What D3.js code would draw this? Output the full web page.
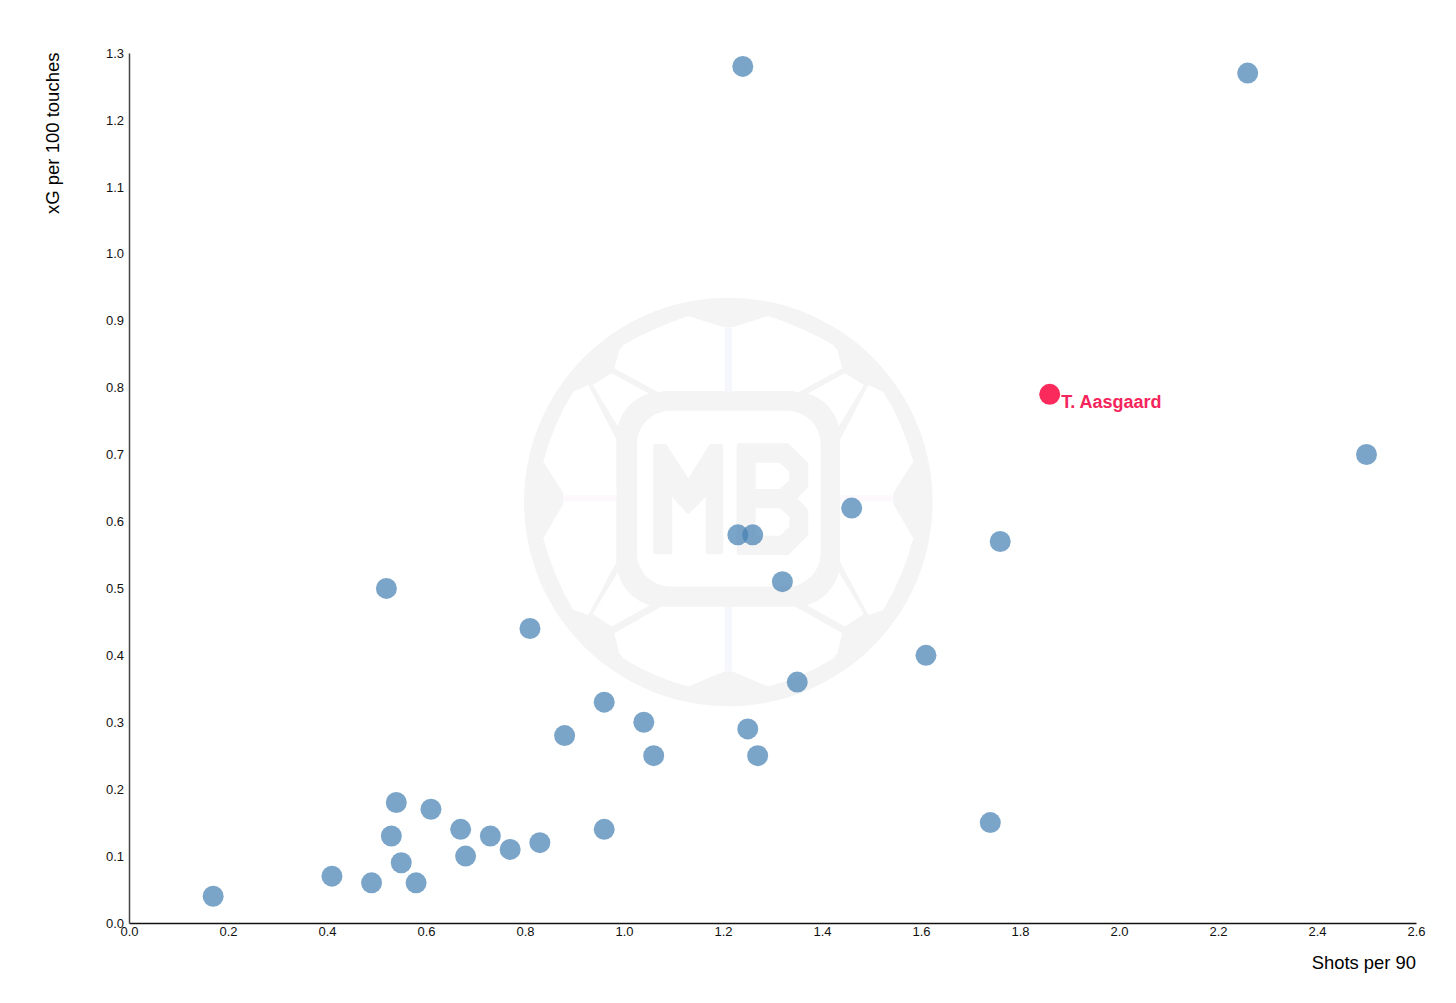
<!DOCTYPE html>
<html>
<head>
<meta charset="utf-8">
<script src="https://cdn.jsdelivr.net/npm/d3@7.9.0/dist/d3.min.js"></script>
<style>
  html, body { margin: 0; padding: 0; background: #fff; }
  svg { display: block; font-family: "Liberation Sans", sans-serif; }
</style>
</head>
<body>
<div id="chart"></div>
<script>
// values
const shots = [0.17, 0.41, 0.49, 0.53, 0.54, 0.55, 0.58, 0.61, 0.67, 0.68, 0.73, 0.77, 0.83, 0.88, 0.96, 0.96, 1.04, 1.06, 1.25, 1.27, 1.35, 0.81, 0.52, 1.23, 1.26, 1.32, 1.46, 1.61, 1.74, 1.76, 2.5, 2.26, 1.24];
const xg = [0.04, 0.07, 0.06, 0.13, 0.18, 0.09, 0.06, 0.17, 0.14, 0.10, 0.13, 0.11, 0.12, 0.28, 0.33, 0.14, 0.30, 0.25, 0.29, 0.25, 0.36, 0.44, 0.50, 0.58, 0.58, 0.51, 0.62, 0.40, 0.15, 0.57, 0.70, 1.27, 1.28];
const highlightName = 'T. Aasgaard';
const highlightShots = 1.86;
const highlightXg = 0.79;
const xTicks = d3.range(0, 14).map((i) => i * 2 / 10);
const yTicks = d3.range(0, 14).map((i) => i / 10);

const width = 1456;
const height = 1003;
const svg = d3.select('#chart').append('svg')
  .attr('width', width)
  .attr('height', height)
  .attr('viewBox', `0 0 ${width} ${height}`);

const xScale = d3.scaleLinear().domain([0, 2.6]).range([129, 1416]);
const yScale = d3.scaleLinear().domain([0, 1.3]).range([923, 53]);

// watermark, traced at 3x; the ball is not quite symmetric top to bottom
const logo = svg.append('g').attr('transform', 'translate(728.3,498.3) scale(0.3333)');
logo.append('circle').attr('cy', 11).attr('r', 613).attr('fill', '#f4f4f4');
const topPanels = [
  'M-120,-547 Q-230,-510 -315,-460 L-327,-445 L-342,-390 L-205,-315 L-195,-322 L-13,-322 L-13,-513 Z',
  'M-407,-340 L-350,-375 L-225,-307 Q-290,-265 -325,-205 Z',
  'M-465,-320 L-420,-340 L-335,-175 L-335,-13 L-493,-13 L-555,-110 Q-525,-225 -465,-320 Z'
];
const bottomPanels = [
  'M-120,565 Q-230,535 -315,480 L-327,465 L-342,405 L-200,325 L-13,325 L-13,520 Z',
  'M-407,347 L-350,385 L-225,315 Q-290,270 -325,210 Z',
  'M-465,335 L-420,350 L-335,190 L-335,13 L-493,13 L-555,120 Q-525,235 -465,335 Z'
];
[1, -1].forEach((sx) => {
  topPanels.concat(bottomPanels).forEach((d) => {
    logo.append('path').attr('d', d).attr('transform', `scale(${sx},1)`).attr('fill', '#fff');
  });
  // seams on the axes of the ball
  logo.append('rect').attr('x', -495).attr('y', -14).attr('width', 170).attr('height', 28)
    .attr('transform', `scale(${sx},1)`).attr('fill', '#fff');
  logo.append('rect').attr('x', -495).attr('y', -9).attr('width', 170).attr('height', 18)
    .attr('transform', `scale(${sx},1)`).attr('fill', '#fcf8fc');
});
logo.append('rect').attr('x', -14).attr('y', -514).attr('width', 28).attr('height', 1034).attr('fill', '#fff');
logo.append('rect').attr('x', -11).attr('y', -513).attr('width', 22).attr('height', 1032).attr('fill', '#f6f6fd');
logo.append('rect').attr('x', -335).attr('y', -320).attr('width', 670).attr('height', 645)
  .attr('rx', 135).attr('fill', '#f4f4f4');
logo.append('rect').attr('x', -274).attr('y', -263).attr('width', 551).attr('height', 528)
  .attr('rx', 100).attr('fill', '#fff');
logo.append('path')
  .attr('d', 'M-217,-155 L-191,-155 L-120,-45 L-51,-155 L-23,-155 L-23,160 L-60,160 L-60,-25 L-120,38 L-176,-25 L-176,160 L-217,160 Z')
  .attr('fill', '#f4f4f4').attr('stroke', '#f4f4f4').attr('stroke-width', 16).attr('stroke-linejoin', 'round');
logo.append('path')
  .attr('fill-rule', 'evenodd')
  .attr('d', 'M33,-157 L177,-157 L232,-102 L232,-38 L197,0 L232,38 L232,107 L177,162 L33,162 Z M74,-115 L158,-115 L191,-83 L191,-52 L158,-20 L74,-20 Z M74,22 L158,22 L191,52 L191,88 L158,120 L74,120 Z')
  .attr('fill', '#f4f4f4').attr('stroke', '#f4f4f4').attr('stroke-width', 16).attr('stroke-linejoin', 'round');

// axes: lines and labels only, no tick marks
const xAxis = d3.axisBottom(xScale).tickValues(xTicks).tickFormat(d3.format('.1f')).tickSize(0).tickPadding(4);
const yAxis = d3.axisLeft(yScale).tickValues(yTicks).tickFormat(d3.format('.1f')).tickSize(0).tickPadding(5);

const gx = svg.append('g').attr('transform', `translate(0,${yScale(0)})`).call(xAxis);
const gy = svg.append('g').attr('transform', `translate(${xScale(0)},0)`).call(yAxis);
gx.select('.domain').attr('stroke', '#111').attr('stroke-width', 1.5);
gy.select('.domain').attr('stroke', '#444').attr('stroke-width', 1.5);
svg.selectAll('.tick text')
  .attr('fill', '#111')
  .style('font-family', '"Liberation Sans", sans-serif')
  .style('font-size', '13px');

svg.append('text')
  .attr('x', 1416)
  .attr('y', 969)
  .attr('text-anchor', 'end')
  .attr('fill', '#000')
  .style('font-size', '18.4px')
  .text('Shots per 90');

svg.append('text')
  .attr('transform', 'translate(59,214) rotate(-90)')
  .attr('fill', '#000')
  .style('font-size', '18.5px')
  .text('xG per 100 touches');

// points
svg.append('g')
  .selectAll('circle')
  .data(shots.map((s, i) => [s, xg[i]]))
  .join('circle')
  .attr('cx', (d) => xScale(d[0]))
  .attr('cy', (d) => yScale(d[1]))
  .attr('r', 10.5)
  .attr('fill', 'steelblue')
  .attr('fill-opacity', 0.72);

svg.append('circle')
  .attr('cx', xScale(highlightShots))
  .attr('cy', yScale(highlightXg))
  .attr('r', 10.5)
  .attr('fill', '#fb2a5c');

svg.append('text')
  .attr('x', xScale(highlightShots) + 11.5)
  .attr('y', yScale(highlightXg) + 14)
  .attr('fill', '#f4255c')
  .style('font-size', '18px')
  .style('font-weight', 'bold')
  .text(highlightName);
</script>
</body>
</html>
